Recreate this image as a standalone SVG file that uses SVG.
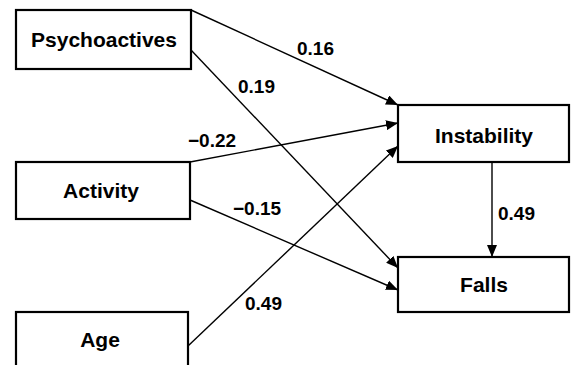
<svg xmlns="http://www.w3.org/2000/svg" width="573" height="365" viewBox="0 0 573 365">
<defs>
<marker id="ah" viewBox="0 0 12 10" refX="12" refY="5" markerWidth="12" markerHeight="10" markerUnits="userSpaceOnUse" orient="auto">
<path d="M0,0 L12,5 L0,10 Z" fill="#000"/>
</marker>
<style>
.box{fill:#fff;stroke:#000;stroke-width:2.2}
.nt{font-family:"Liberation Sans",Arial,sans-serif;font-weight:bold;font-size:21px;text-anchor:middle;fill:#000}
.lb{font-family:"Liberation Sans",Arial,sans-serif;font-weight:bold;font-size:19px;fill:#000}
.ln{stroke:#000;stroke-width:1.4;fill:none;marker-end:url(#ah)}
</style>
</defs>
<rect width="573" height="365" fill="#fff"/>
<g id="connectors">
<line class="ln" x1="191" y1="10" x2="398" y2="105"/>
<line class="ln" x1="191" y1="50" x2="398" y2="268"/>
<line class="ln" x1="190" y1="162" x2="398" y2="123"/>
<line class="ln" x1="190" y1="200" x2="398" y2="290"/>
<line class="ln" x1="188" y1="346" x2="398" y2="146"/>
<line class="ln" x1="492" y1="162" x2="492" y2="257"/>
</g>
<g id="labels">
<text class="lb" x="297" y="55">0.16</text>
<text class="lb" x="238" y="93">0.19</text>
<text class="lb" x="188" y="147">−0.22</text>
<text class="lb" x="233" y="215">−0.15</text>
<text class="lb" x="245" y="310">0.49</text>
<text class="lb" x="498" y="220">0.49</text>
</g>
<g id="psychoactives">
<rect class="box" x="16" y="10" width="175" height="59"/>
<text class="nt" x="104" y="47">Psychoactives</text>
</g>
<g id="activity">
<rect class="box" x="16" y="162" width="174" height="57"/>
<text class="nt" x="101" y="198">Activity</text>
</g>
<g id="age">
<rect class="box" x="16" y="312" width="172" height="70"/>
<text class="nt" x="100" y="347">Age</text>
</g>
<g id="instability">
<rect class="box" x="398" y="105" width="171" height="57"/>
<text class="nt" x="484" y="143">Instability</text>
</g>
<g id="falls">
<rect class="box" x="398" y="257" width="171" height="55"/>
<text class="nt" x="484" y="292">Falls</text>
</g>
</svg>
